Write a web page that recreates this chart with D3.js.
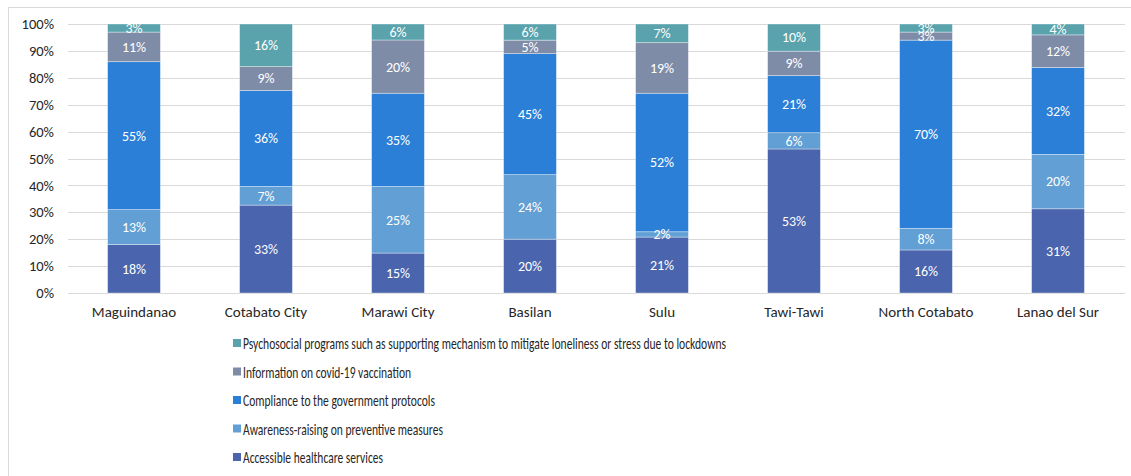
<!DOCTYPE html>
<html><head><meta charset="utf-8">
<script src="https://cdn.jsdelivr.net/npm/d3@7"></script>
<style>
html,body{margin:0;padding:0;background:#fff;}
svg{display:block;font-family:Carlito,Lato,"Open Sans",sans-serif;}
</style></head>
<body><svg id="c" width="1131" height="476"></svg>
<script>
const categories = ["Maguindanao","Cotabato City","Marawi City","Basilan","Sulu","Tawi-Tawi","North Cotabato","Lanao del Sur"];
const seriesNames = ["Accessible healthcare services","Awareness-raising on preventive measures","Compliance to the government protocols","Information on covid-19 vaccination","Psychosocial programs such as supporting mechanism to mitigate loneliness or stress due to lockdowns"];
const accessible   = [18,33,15,20,21,53,16,31];
const awareness    = [13, 7,25,24, 2, 6, 8,20];
const compliance   = [55,36,35,45,52,21,70,32];
const information  = [11, 9,20, 5,19, 9, 3,12];
const psychosocial = [ 3,16, 6, 6, 7,10, 3, 4];
const yTicks = [0,0.1,0.2,0.3,0.4,0.5,0.6,0.7,0.8,0.9,1];
const colors = ["#4a64ad","#629fd4","#2b7fd7","#7f8ca8","#5aa3ad"];
const legendWidths = [140,200,192,168,483];

const seriesVals = [accessible,awareness,compliance,information,psychosocial];
const table = categories.map((c,i)=>{const o={cat:c};seriesNames.forEach((s,j)=>o[s]=seriesVals[j][i]);return o;});
const stacked = d3.stack().keys(seriesNames).offset(d3.stackOffsetExpand)(table);

const svg = d3.select("#c");
svg.append("rect").attr("x",8.5).attr("y",7.5).attr("width",1200).attr("height",600)
  .attr("fill","none").attr("stroke","#d9d9d9").attr("stroke-width",1);

const x = d3.scaleBand().domain(categories).range([68,1124]).paddingInner(0.6).paddingOuter(0.3);
const y = d3.scaleLinear().domain([0,1]).range([293,24]);

svg.append("g").selectAll("line").data(yTicks).join("line")
  .attr("x1",68).attr("x2",1125).attr("y1",d=>Math.round(y(d))+0.5).attr("y2",d=>Math.round(y(d))+0.5)
  .attr("stroke","#d9d9d9").attr("stroke-width",1);

const yAxis = d3.axisLeft(y).tickValues(yTicks).tickFormat(d3.format(".0%")).tickSize(0).tickPadding(0);
const ga = svg.append("g").attr("transform","translate(54,0)").call(yAxis);
ga.select(".domain").remove();
ga.selectAll("text").attr("font-size","14.5px").attr("fill","#262626").attr("font-family","Carlito,Lato,sans-serif");

const layers = svg.append("g").selectAll("g").data(stacked).join("g").attr("fill",(d,i)=>colors[i]);
layers.selectAll("rect").data(d=>d).join("rect")
  .attr("x",d=>x(d.data.cat)).attr("width",x.bandwidth())
  .attr("y",d=>y(d[1])).attr("height",d=>y(d[0])-y(d[1]))
  .attr("stroke","rgba(255,255,255,0.45)").attr("stroke-width",0.8);

stacked.forEach((s,si)=>{
  svg.append("g").selectAll("text").data(s).join("text")
    .attr("x",d=>x(d.data.cat)+x.bandwidth()/2)
    .attr("y",d=>(y(d[0])+y(d[1]))/2)
    .attr("dy","0.35em").attr("text-anchor","middle")
    .attr("font-size","14px").attr("fill","#fff")
    .text(d=>d.data[s.key]+"%");
});

const xAxis = d3.axisBottom(x).tickSize(0).tickPadding(0);
const gx = svg.append("g").attr("transform","translate(0,306)").call(xAxis);
gx.select(".domain").remove();
gx.selectAll("text").attr("font-size","15px").attr("fill","#262626").attr("dy","0.71em").attr("font-family","Carlito,Lato,sans-serif");

const order = [4,3,2,1,0];
const lg = svg.append("g");
order.forEach((si,k)=>{
  const cy = 343 + k*28.5;
  lg.append("rect").attr("x",233).attr("y",cy-4).attr("width",8).attr("height",8).attr("fill",colors[si]);
  lg.append("text").attr("x",243).attr("y",cy).attr("dy","0.36em")
    .attr("font-size","17px").attr("fill","#262626")
    .attr("textLength",legendWidths[si]).attr("lengthAdjust","spacingAndGlyphs")
    .text(seriesNames[si]);
});
</script></body></html>
